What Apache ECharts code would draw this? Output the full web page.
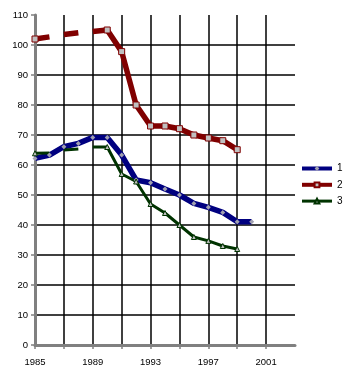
<!DOCTYPE html>
<html>
<head>
<meta charset="utf-8">
<script src="https://cdn.jsdelivr.net/npm/echarts@6/dist/echarts.min.js"></script>
<style>
  html, body { margin: 0; padding: 0; background: #fff; }
  #chart { width: 353px; height: 374px; }
</style>
</head>
<body>
<div id="chart"></div>
<script>
// data
var years = [1985, 1986, 1987, 1988, 1989, 1990, 1991, 1992, 1993, 1994, 1995, 1996, 1997, 1998, 1999, 2000];
var series1 = [62.2, 63.3, 66.1, 67.2, 69.2, 69.2, 63.3, 55, 54.1, 52, 50, 47.2, 45.9, 44.2, 41.1, 41.1];
var series2 = [102, 102.7, 103.5, 104.1, 104.5, 105, 97.8, 80, 73, 73, 72.1, 70, 69, 68.1, 65.1];
var series3 = [63.9, 64, 65, 65.3, 66, 66, 57, 54.5, 47, 44, 40, 36, 34.7, 33, 32];
var seriesNames = ['1', '2', '3'];
// series 2 and 3 are broken after these years and have no marker on these years
var breakAfter = [1986, 1988];
var noMarker = [1986, 1987, 1988, 1989];

var font = 'Liberation Sans, Arial, sans-serif';

// turn a value list into [year, value] pairs, with line breaks and hidden markers
function buildData(values, withBreaks) {
  var out = [];
  values.forEach(function (v, i) {
    var item = { value: [years[i], v] };
    if (withBreaks && noMarker.indexOf(years[i]) >= 0) {
      item.symbol = 'none';
    }
    out.push(item);
    if (withBreaks && breakAfter.indexOf(years[i]) >= 0) {
      out.push({ value: [years[i] + 0.5, '-'] });
    }
  });
  return out;
}

var myChart = echarts.init(document.getElementById('chart'));

var option = {
  backgroundColor: '#fff',
  animation: false,
  grid: { left: 35, top: 15, right: 58, bottom: 29, containLabel: false },
  legend: {
    data: [
      { name: seriesNames[0], lineStyle: { width: 4 } },
      { name: seriesNames[1], lineStyle: { width: 4 } },
      { name: seriesNames[2], lineStyle: { width: 3 } }
    ],
    orient: 'vertical',
    left: 300,
    top: 163.5,
    padding: 0,
    itemWidth: 30,
    itemHeight: 6,
    itemGap: 6.3,
    textStyle: { fontFamily: font, fontSize: 10, color: '#000' }
  },
  xAxis: {
    type: 'value',
    min: 1985,
    max: 2003,
    interval: 2,
    axisLine: { lineStyle: { color: '#808080', width: 3 } },
    axisTick: { length: 4, lineStyle: { color: '#808080', width: 1.5 } },
    axisLabel: {
      margin: 12,
      fontFamily: font,
      fontSize: 9.5,
      color: '#000',
      showMaxLabel: false,
      formatter: function (v) { return (v - 1985) % 4 === 0 ? String(v) : ''; }
    },
    splitLine: { show: true, showMinLine: false, showMaxLine: false, lineStyle: { color: '#000', width: 1.5 } }
  },
  yAxis: {
    type: 'value',
    min: 0,
    max: 110,
    interval: 10,
    axisLine: { show: true, lineStyle: { color: '#808080', width: 3 } },
    axisTick: { show: true, length: 4, lineStyle: { color: '#808080', width: 1.5 } },
    axisLabel: { margin: 7, fontFamily: font, fontSize: 9.5, color: '#000' },
    splitLine: { show: true, showMinLine: false, showMaxLine: false, lineStyle: { color: '#000', width: 1.5 } }
  },
  series: [
    {
      name: seriesNames[0],
      type: 'line',
      data: buildData(series1, false),
      symbol: 'diamond',
      symbolSize: 5,
      lineStyle: { color: '#000080', width: 5.5 },
      itemStyle: { color: '#a0a0b0', borderWidth: 0 },
      color: '#000080'
    },
    {
      name: seriesNames[1],
      type: 'line',
      data: buildData(series2, true),
      symbol: 'rect',
      symbolSize: 6,
      lineStyle: { color: '#800000', width: 5.5 },
      itemStyle: { color: '#c0c0c0', borderColor: '#800000', borderWidth: 1 },
      color: '#800000'
    },
    {
      name: seriesNames[2],
      type: 'line',
      data: buildData(series3, true),
      symbol: 'triangle',
      symbolSize: 5,
      lineStyle: { color: '#003300', width: 3 },
      itemStyle: { color: '#c0c0c0', borderColor: '#003300', borderWidth: 1 },
      color: '#003300'
    }
  ]
};

option && myChart.setOption(option);
</script>
</body>
</html>
